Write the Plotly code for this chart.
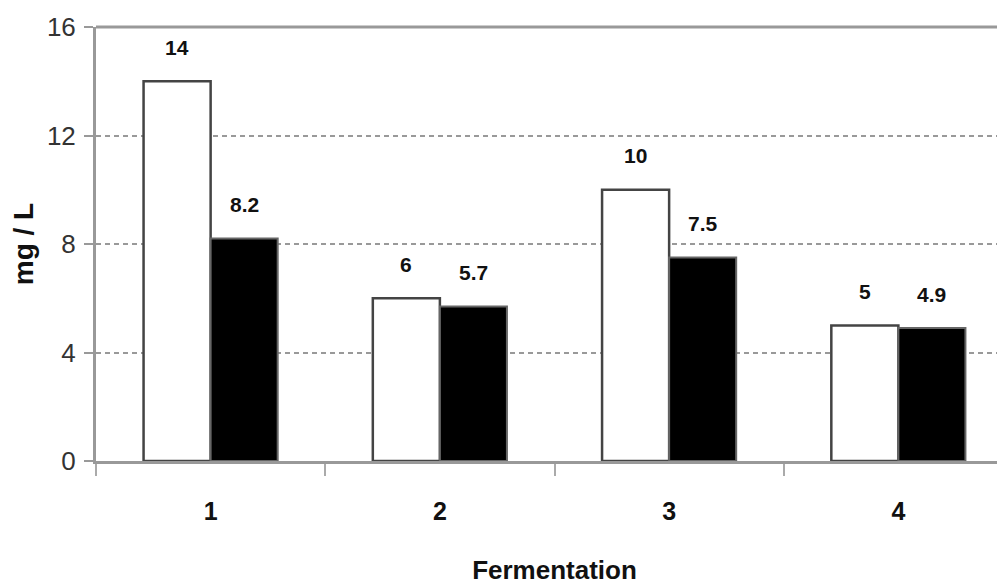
import plotly.graph_objects as go

categories = ["1", "2", "3", "4"]
series_a = [14, 6, 10, 5]        # white bars
series_b = [8.2, 5.7, 7.5, 4.9]  # black bars
label_a = ["14", "6", "10", "5"]
label_b = ["8.2", "5.7", "7.5", "4.9"]
y_ticks = [0, 4, 8, 12, 16]

SANS = "Liberation Sans, Arial, sans-serif"

fig = go.Figure()
fig.add_trace(go.Bar(
    x=categories, y=series_a, name="A",
    marker=dict(color="white", line=dict(color="#444", width=2.5)),
))
fig.add_trace(go.Bar(
    x=categories, y=series_b, name="B",
    marker=dict(color="black", line=dict(color="#666", width=2)),
))

bar_half = 33.6
annotations = []
for i, (v, t) in enumerate(zip(series_a, label_a)):
    annotations.append(dict(x=i, y=v, text="<b>" + t + "</b>", showarrow=False, xshift=-bar_half, yshift=34,
                            yanchor="middle", font=dict(family=SANS, size=21, color="#111")))
for i, (v, t) in enumerate(zip(series_b, label_b)):
    annotations.append(dict(x=i, y=v, text="<b>" + t + "</b>", showarrow=False, xshift=bar_half, yshift=34,
                            yanchor="middle", font=dict(family=SANS, size=21, color="#111")))

fig.update_layout(
    width=1005, height=587,
    margin=dict(l=88, r=0, t=19, b=134),
    paper_bgcolor="white", plot_bgcolor="white",
    showlegend=False,
    barmode="group", bargap=0.415, bargroupgap=0,
    annotations=annotations,
    shapes=[dict(type="line", xref="paper", yref="paper", x0=0, x1=1, y0=1, y1=1,
                 line=dict(color="#999", width=3))],
)
fig.update_xaxes(
    type="category", range=[-0.5, 3.5], automargin=False,
    showline=True, linecolor="#999", linewidth=3,
    ticks="outside", tickson="boundaries", ticklen=12, tickcolor="#aaa", tickwidth=2,
    tickfont=dict(family=SANS, size=25, color="#111"),
    tickprefix="<b>", ticksuffix="</b>",
    ticklabelstandoff=26,
    title=dict(text="<b>Fermentation</b>", font=dict(family=SANS, size=26, color="#111"), standoff=37),
    showgrid=False,
)
fig.update_yaxes(
    range=[0, 16], tickvals=y_ticks, automargin=False,
    showline=True, linecolor="#999", linewidth=3,
    ticks="outside", ticklen=9, tickcolor="#999", tickwidth=2,
    tickfont=dict(family=SANS, size=26, color="#333"),
    ticklabelstandoff=3,
    showgrid=True, gridcolor="#999", gridwidth=2, griddash="5px,4px",
    zeroline=False,
    title=dict(text="<b>mg / L</b>", font=dict(family=SANS, size=28, color="#111"), standoff=7),
)

fig.write_html("out.html")
